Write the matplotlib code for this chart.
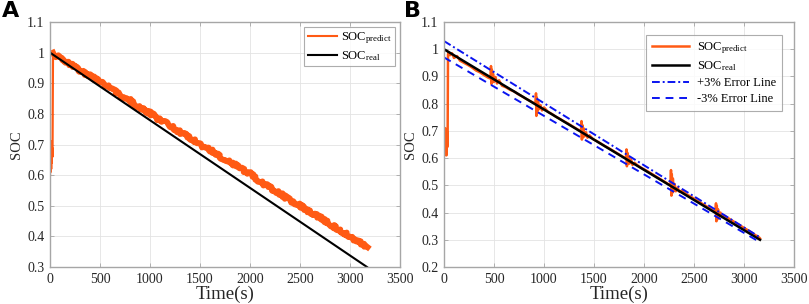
import matplotlib
matplotlib.use("Agg")
import matplotlib.pyplot as plt

# ---- data ----
# panel A
a_real_t = [0, 3170]
a_real_soc = [1.0, 0.30]
a_start_t = [0, 3, 6, 9, 12, 15, 18, 21, 25, 30]
a_start_soc = [0.60, 0.70, 0.61, 0.68, 0.62, 0.71, 0.64, 0.69, 0.66, 1.005]
a_pred_t = [30, 50,
            100, 200, 300, 400, 500, 600, 700, 800, 900, 1000,
            1100, 1200, 1300, 1400, 1500, 1600, 1700, 1800, 1900, 2000,
            2100, 2200, 2300, 2400, 2500, 2600, 2700, 2800, 2900, 3000,
            3100, 3170]
a_pred_soc = [1.000, 0.993,
              0.981, 0.963, 0.940, 0.925, 0.903, 0.886, 0.860, 0.844, 0.819, 0.803,
              0.779, 0.763, 0.740, 0.722, 0.699, 0.683, 0.660, 0.645, 0.622, 0.605,
              0.579, 0.559, 0.540, 0.517, 0.501, 0.479, 0.462, 0.439, 0.421, 0.399,
              0.380, 0.362]

# panel B
b_real_t = [0, 3160]
b_real_soc = [1.0, 0.30]
b_plus_soc = [1.03, 0.309]
b_minus_soc = [0.97, 0.291]
b_pred_t = [0, 4, 8, 12, 16, 20, 24, 28, 32, 36, 40, 45, 60, 80, 100, 130, 160,
            200, 240, 280, 320, 360, 400, 440,
            465, 470, 474, 478, 484, 490, 500, 515, 530, 550,
            580, 620, 660, 700, 740, 780, 820, 860, 900,
            915, 920, 924, 928, 934, 940, 950, 965, 980, 1000,
            1040, 1080, 1120, 1160, 1200, 1240, 1280, 1320, 1360,
            1370, 1375, 1379, 1383, 1389, 1395, 1405, 1420, 1435, 1455,
            1490, 1530, 1570, 1610, 1650, 1690, 1730, 1770, 1810,
            1820, 1825, 1829, 1833, 1839, 1845, 1855, 1870, 1885, 1905,
            1940, 1980, 2020, 2060, 2100, 2140, 2180, 2220, 2260,
            2265, 2270, 2274, 2278, 2283, 2289, 2296, 2305, 2318, 2335, 2355,
            2380, 2420, 2460, 2500, 2540, 2580, 2620, 2660, 2700,
            2715, 2720, 2724, 2728, 2734, 2740, 2750, 2765, 2780, 2800,
            2830, 2870, 2910, 2950, 2990, 3030, 3070, 3110, 3150, 3160]
b_pred_soc = [0.61, 0.66, 0.62, 0.71, 0.63, 0.68, 0.61, 0.70, 0.64, 0.66, 0.98, 0.99,
              0.978, 0.985, 0.968, 0.975, 0.958,
              0.950, 0.942, 0.933, 0.922, 0.915, 0.905, 0.896,
              0.892, 0.938, 0.872, 0.925, 0.878, 0.910, 0.880, 0.898, 0.874, 0.886,
              0.866, 0.860, 0.851, 0.845, 0.835, 0.827, 0.818, 0.810, 0.802,
              0.798, 0.838, 0.755, 0.822, 0.772, 0.808, 0.780, 0.795, 0.775, 0.786,
              0.770, 0.762, 0.752, 0.744, 0.735, 0.727, 0.718, 0.709, 0.700,
              0.698, 0.736, 0.668, 0.722, 0.676, 0.710, 0.680, 0.695, 0.675, 0.684,
              0.670, 0.662, 0.653, 0.644, 0.636, 0.627, 0.618, 0.609, 0.600,
              0.598, 0.632, 0.570, 0.620, 0.578, 0.608, 0.580, 0.596, 0.575, 0.583,
              0.572, 0.563, 0.555, 0.546, 0.537, 0.528, 0.519, 0.510, 0.500,
              0.499, 0.556, 0.462, 0.540, 0.472, 0.525, 0.478, 0.505, 0.478, 0.492, 0.476,
              0.481, 0.468, 0.460, 0.451, 0.442, 0.433, 0.424, 0.415, 0.405,
              0.402, 0.434, 0.368, 0.425, 0.375, 0.412, 0.382, 0.400, 0.385, 0.390,
              0.382, 0.373, 0.364, 0.355, 0.346, 0.337, 0.328, 0.318, 0.309, 0.305]

x_ticks = [0, 500, 1000, 1500, 2000, 2500, 3000, 3500]
a_y_ticks = [0.3, 0.4, 0.5, 0.6, 0.7, 0.8, 0.9, 1.0, 1.1]
b_y_ticks = [0.2, 0.3, 0.4, 0.5, 0.6, 0.7, 0.8, 0.9, 1.0, 1.1]

_ORANGE = "#FF5A14"
_BLUE = "#0A14F0"
_SPINE = "#A6A6A6"
_GRID = "#E3E3E3"
_TXT = "#262626"

plt.rcParams["font.family"] = ["Liberation Serif", "DejaVu Serif"]
plt.rcParams["mathtext.fontset"] = "custom"
plt.rcParams["mathtext.rm"] = "Liberation Serif"
plt.rcParams["mathtext.it"] = "Liberation Serif"


def style_axes(ax, yticks):
    ax.set_xlim(0, 3500)
    ax.set_ylim(yticks[0], yticks[-1])
    ax.set_xticks(x_ticks)
    ax.set_xticklabels([str(t) for t in x_ticks])
    ax.set_yticks(yticks)
    ax.set_yticklabels([("1" if abs(v - 1) < 1e-9 else f"{v:.1f}") for v in yticks])
    ax.tick_params(direction="in", top=True, right=True, length=3, width=0.6,
                   colors=_SPINE, labelcolor=_TXT, labelsize=10, pad=4)
    for sp in ax.spines.values():
        sp.set_edgecolor(_SPINE)
        sp.set_linewidth(1.0)
    ax.grid(color=_GRID, linewidth=0.6)
    ax.set_axisbelow(True)
    ax.set_xlabel("Time(s)", fontsize=13.5, color=_TXT, labelpad=0)
    ax.set_ylabel("SOC", fontsize=10.5, color=_TXT, labelpad=3)


fig = plt.figure(figsize=(8.09, 3.04), dpi=100)
ax_a = fig.add_axes([50 / 809, 37 / 304, 350 / 809, 245 / 304])
ax_b = fig.add_axes([444 / 809, 37 / 304, 350 / 809, 245 / 304])

# panel A
style_axes(ax_a, a_y_ticks)
ax_a.plot(a_start_t, a_start_soc, color=_ORANGE, linewidth=1.6)
line, = ax_a.plot(a_pred_t, a_pred_soc, color=_ORANGE, linewidth=4.2,
                  label=r"SOC$_{\mathrm{predict}}$")
line.set_sketch_params(scale=1.6, length=1.0, randomness=30)
ax_a.plot(a_real_t, a_real_soc, color="black", linewidth=1.5,
          label=r"SOC$_{\mathrm{real}}$")
leg = ax_a.legend(loc="upper right", fontsize=9, frameon=True, fancybox=False,
                  edgecolor="#999999", handlelength=2.3, borderpad=0.3,
                  labelspacing=0.2, handletextpad=0.3, borderaxespad=0.4)
leg.get_frame().set_linewidth(0.8)
for h in leg.get_lines():
    h.set_linewidth(1.5)
    h.set_sketch_params(None)

# panel B
style_axes(ax_b, b_y_ticks)
ax_b.plot(b_pred_t, b_pred_soc, color=_ORANGE, linewidth=1.8,
          label=r"SOC$_{\mathrm{predict}}$")
ax_b.plot(b_real_t, b_real_soc, color="black", linewidth=1.8,
          label=r"SOC$_{\mathrm{real}}$")
ax_b.plot(b_real_t, b_plus_soc, color=_BLUE, linewidth=1.4,
          linestyle=(0, (4, 1.5, 1, 1.5)), label="+3% Error Line")
ax_b.plot(b_real_t, b_minus_soc, color=_BLUE, linewidth=1.4,
          linestyle=(0, (4, 3)), label="-3% Error Line")
leg_b = ax_b.legend(loc="upper right", fontsize=9, frameon=True, fancybox=False,
                    edgecolor="#999999", handlelength=3.0, borderpad=0.45,
                    labelspacing=0.3, handletextpad=0.6, borderaxespad=1.0)
leg_b.get_frame().set_linewidth(0.8)

fig.text(2 / 809, 1 - 1 / 304, "A", fontsize=16, fontweight="bold",
         family="DejaVu Sans", va="top", ha="left")
fig.text(404 / 809, 1 - 1 / 304, "B", fontsize=16, fontweight="bold",
         family="DejaVu Sans", va="top", ha="left")

fig.savefig("out.png", dpi=100)
